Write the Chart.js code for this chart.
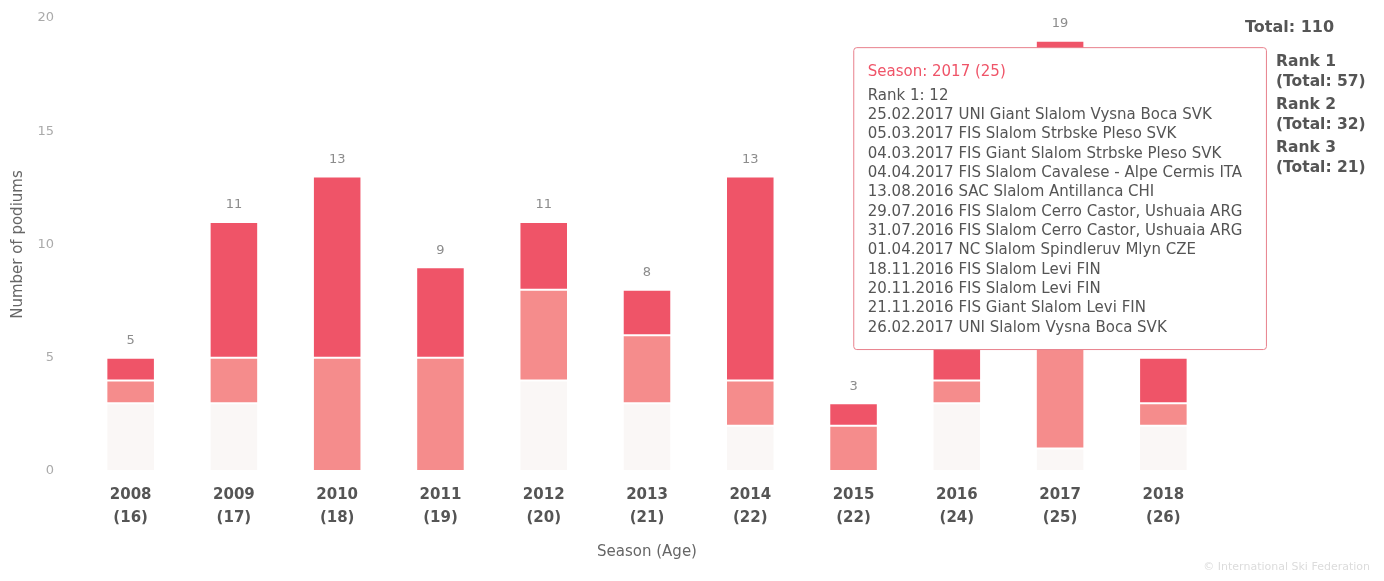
<!DOCTYPE html>
<html lang="en">
<head>
<meta charset="UTF-8">
<title>Podiums per season</title>
<script src="https://cdn.jsdelivr.net/npm/chart.js"></script>
<style>
  html, body { margin: 0; padding: 0; background: #fff; }
</style>
</head>
<body>
<canvas id="podiumChart" width="1384" height="581"></canvas>
<script>
const seasons = ['2008', '2009', '2010', '2011', '2012', '2013', '2014', '2015', '2016', '2017', '2018']
const ages = ['16', '17', '18', '19', '20', '21', '22', '22', '24', '25', '26']
const rank1 = [1, 6, 8, 4, 3, 2, 9, 1, 9, 12, 2]
const rank2 = [1, 2, 5, 5, 4, 3, 2, 2, 1, 6, 1]
const rank3 = [3, 3, 0, 0, 4, 3, 2, 0, 3, 1, 2]
const yTicks = [0, 5, 10, 15, 20]

// tooltip shown for season 2017
const activeSeason = '2017'
const events2017 = [
  '25.02.2017 UNI Giant Slalom Vysna Boca SVK',
  '05.03.2017 FIS Slalom Strbske Pleso SVK',
  '04.03.2017 FIS Giant Slalom Strbske Pleso SVK',
  '04.04.2017 FIS Slalom Cavalese - Alpe Cermis ITA',
  '13.08.2016 SAC Slalom Antillanca CHI',
  '29.07.2016 FIS Slalom Cerro Castor, Ushuaia ARG',
  '31.07.2016 FIS Slalom Cerro Castor, Ushuaia ARG',
  '01.04.2017 NC Slalom Spindleruv Mlyn CZE',
  '18.11.2016 FIS Slalom Levi FIN',
  '20.11.2016 FIS Slalom Levi FIN',
  '21.11.2016 FIS Giant Slalom Levi FIN',
  '26.02.2017 UNI Slalom Vysna Boca SVK',
]

const FONT = "'DejaVu Sans', Verdana, sans-serif"
const sum = (arr) => arr.reduce((a, b) => a + b, 0)

const labels = seasons.map((s, i) => [s, '(' + ages[i] + ')'])

const series = [
  { label: 'Rank 1', data: rank1, color: '#ef5468' },
  { label: 'Rank 2', data: rank2, color: '#f58c8c' },
  { label: 'Rank 3', data: rank3, color: '#faf7f6' },
]

// stack totals above the bars, legend text and credits
const extras = {
  id: 'extras',
  afterDatasetsDraw(chart) {
    const { ctx } = chart
    const xs = chart.scales.x
    const ys = chart.scales.y
    ctx.save()
    ctx.textAlign = 'center'
    ctx.textBaseline = 'middle'
    ctx.font = '13px ' + FONT
    ctx.fillStyle = '#8c8c8c'
    seasons.forEach((s, i) => {
      const total = rank1[i] + rank2[i] + rank3[i]
      ctx.fillText(String(total), xs.getPixelForValue(i), ys.getPixelForValue(total) - 17)
    })

    ctx.textAlign = 'left'
    ctx.fillStyle = '#555'
    ctx.font = 'bold 16px ' + FONT
    ctx.fillText('Total: ' + (sum(rank1) + sum(rank2) + sum(rank3)), 1245, 28)
    ctx.font = 'bold 15.5px ' + FONT
    series.forEach((s, k) => {
      const y = 62 + k * 43
      ctx.fillText(s.label, 1276, y)
      ctx.fillText('(Total: ' + sum(s.data) + ')', 1276, y + 20)
    })

    ctx.textAlign = 'right'
    ctx.font = '11px ' + FONT
    ctx.fillStyle = '#dcdcdc'
    ctx.fillText('\u00a9 International Ski Federation', 1370, 567)
    ctx.restore()
  },
}

const ctx = document.getElementById('podiumChart').getContext('2d')
const chart = new Chart(ctx, {
  type: 'bar',
  data: {
    labels: labels,
    // first dataset is stacked at the bottom
    datasets: series
      .slice()
      .reverse()
      .map((s) => ({
        label: s.label,
        data: s.data,
        backgroundColor: s.color,
        hoverBackgroundColor: s.color,
        borderColor: '#fff',
        hoverBorderColor: '#fff',
        borderWidth: 1,
        borderSkipped: false,
        barPercentage: 0.47,
        categoryPercentage: 1,
      })),
  },
  plugins: [extras],
  options: {
    responsive: false,
    devicePixelRatio: 1,
    animation: false,
    layout: { padding: { top: 18, right: 169, bottom: 20, left: 0 } },
    plugins: {
      legend: { display: false },
      tooltip: {
        enabled: true,
        mode: 'nearest',
        intersect: true,
        xAlign: 'center',
        yAlign: 'top',
        caretSize: 0,
        caretPadding: 7,
        cornerRadius: 3,
        backgroundColor: '#fff',
        borderColor: '#e8808c',
        borderWidth: 1,
        displayColors: false,
        padding: { top: 15, bottom: 12, left: 14, right: 24 },
        titleColor: '#ef5468',
        titleFont: { family: FONT, size: 15, weight: 'normal', lineHeight: 1.29 },
        titleMarginBottom: 4,
        bodyColor: '#555',
        bodyFont: { family: FONT, size: 15, weight: 'normal', lineHeight: 1.29 },
        bodySpacing: 0,
        callbacks: {
          title: (items) => {
            const i = items[0].dataIndex
            return 'Season: ' + seasons[i] + ' (' + ages[i] + ')'
          },
          label: (item) => item.dataset.label + ': ' + item.raw,
          afterLabel: (item) =>
            seasons[item.dataIndex] === activeSeason && item.dataset.label === 'Rank 1' ? events2017 : [],
        },
      },
    },
    scales: {
      x: {
        stacked: true,
        offset: true,
        grid: { display: false, drawTicks: false },
        border: { display: false },
        ticks: {
          autoSkip: false,
          maxRotation: 0,
          padding: 13,
          color: '#555',
          font: { family: FONT, size: 15, weight: 'bold', lineHeight: 1.53 },
        },
        title: {
          display: true,
          text: 'Season (Age)',
          color: '#666',
          padding: { top: 0, bottom: 0 },
          font: { family: FONT, size: 15, weight: 'normal' },
        },
      },
      y: {
        stacked: true,
        min: yTicks[0],
        max: yTicks[yTicks.length - 1],
        afterFit: (s) => {
          s.width = 79
          // keep the wide label gap from pushing the plot down
          s.paddingTop = 8
          s.paddingBottom = 8
        },
        afterBuildTicks: (s) => {
          s.ticks = yTicks.map((v) => ({ value: v }))
        },
        grid: { display: false, drawTicks: false },
        border: { display: false },
        ticks: {
          padding: 25,
          color: '#aaa',
          font: { family: FONT, size: 13 },
        },
        title: {
          display: true,
          text: 'Number of podiums',
          color: '#666',
          padding: { top: 9, bottom: 0 },
          font: { family: FONT, size: 15, weight: 'normal' },
        },
      },
    },
  },
})

// show the tooltip of the 2017 Rank 1 segment
const dsIndex = chart.data.datasets.findIndex((d) => d.label === 'Rank 1')
const idx = seasons.indexOf(activeSeason)
const el = chart.getDatasetMeta(dsIndex).data[idx]
chart.tooltip.setActiveElements([{ datasetIndex: dsIndex, index: idx }], { x: el.x, y: el.y })
chart.update()
</script>
</body>
</html>
